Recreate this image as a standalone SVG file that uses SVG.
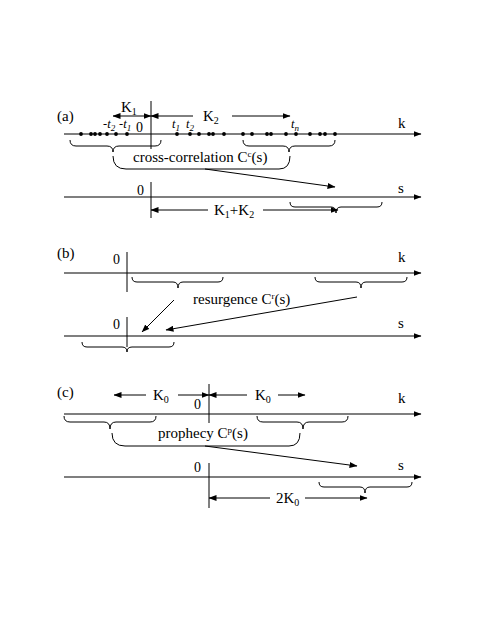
<svg xmlns="http://www.w3.org/2000/svg" width="491" height="635" viewBox="0 0 491 635">
<style>
text{font-family:"Liberation Serif","Times New Roman",serif;fill:#000}
.lab{font-size:15px}
.sm{font-size:14px}
.it{font-style:italic;font-size:12.5px}
.ax{stroke:#000;stroke-width:1.1;fill:none}
.ln{stroke:#000;stroke-width:1;fill:none}
.br{stroke:#000;stroke-width:1;fill:none}
.dot{fill:#000}
</style>
<defs>
<marker id="ah" markerUnits="userSpaceOnUse" markerWidth="8" markerHeight="6" refX="7.5" refY="3" orient="auto-start-reverse"><path d="M0,0 L8,3 L0,6 z" fill="#000"/></marker>
</defs>
<rect width="491" height="635" fill="#fff"/>

<g id="panel-a">
<text class="lab" x="57" y="121">(a)</text>
<line class="ax" x1="64" y1="134" x2="421" y2="134" marker-end="url(#ah)"/>
<line class="ln" x1="151" y1="101" x2="151" y2="149"/>
<text class="lab" x="398" y="128">k</text>
<line class="ln" x1="113" y1="116" x2="151" y2="116" marker-start="url(#ah)" marker-end="url(#ah)"/>
<text class="lab" x="121" y="112">K<tspan font-size="10" dy="3">1</tspan></text>
<line class="ln" x1="151" y1="116" x2="193" y2="116" marker-start="url(#ah)"/>
<text class="lab" x="203" y="121">K<tspan font-size="10" dy="3">2</tspan></text>
<line class="ln" x1="232" y1="116" x2="290" y2="116" marker-end="url(#ah)"/>
<text class="it" x="103" y="128">-t<tspan font-size="9" dy="3">2</tspan></text>
<text class="it" x="119" y="128">-t<tspan font-size="9" dy="3">1</tspan></text>
<text class="sm" x="136" y="132">0</text>
<text class="it" x="172" y="128">t<tspan font-size="9" dy="3">1</tspan></text>
<text class="it" x="186" y="128">t<tspan font-size="9" dy="3">2</tspan></text>
<text class="it" x="291" y="128">t<tspan font-size="9" dy="3">n</tspan></text>
<g class="dot">
<circle cx="81" cy="134" r="1.9"/><circle cx="91" cy="134" r="1.9"/><circle cx="95" cy="134" r="1.9"/><circle cx="100" cy="134" r="1.9"/><circle cx="107" cy="134" r="1.9"/><circle cx="116" cy="134" r="1.9"/><circle cx="127" cy="134" r="1.9"/>
<circle cx="177" cy="134" r="1.9"/><circle cx="190" cy="134" r="1.9"/><circle cx="199" cy="134" r="1.9"/><circle cx="209" cy="134" r="1.9"/><circle cx="213" cy="134" r="1.9"/><circle cx="224" cy="134" r="1.9"/><circle cx="243" cy="134" r="1.9"/><circle cx="252" cy="134" r="1.9"/><circle cx="267" cy="134" r="1.9"/><circle cx="271" cy="134" r="1.9"/><circle cx="286" cy="134" r="1.9"/><circle cx="296" cy="134" r="1.9"/><circle cx="310" cy="134" r="1.9"/><circle cx="320" cy="134" r="1.9"/><circle cx="325" cy="134" r="1.9"/><circle cx="335" cy="134" r="1.9"/>
</g>
<path class="br" d="M70,140 q0,6 6,6 H107 q6,0 6,6 q0,-6 6,-6 H155 q6,0 6,-6"/>
<path class="br" d="M243,140 q0,6 6,6 H283 q6,0 6,6 q0,-6 6,-6 H329 q6,0 6,-6"/>
<path class="br" d="M113,156 q0,13 13,13 H279 q11,0 11,-13"/>
<text class="lab" x="133" y="162">cross-correlation C<tspan font-size="9" dy="-5">c</tspan><tspan dy="5">(s)</tspan></text>

<line class="ax" x1="64" y1="197" x2="421" y2="197" marker-end="url(#ah)"/>
<line class="ln" x1="151" y1="182" x2="151" y2="218"/>
<text class="sm" x="137" y="195">0</text>
<text class="lab" x="398" y="193">s</text>
<path class="br" d="M290,202 q0,5 5,5 H331 q5,0 5,6 q0,-6 5,-6 H377 q5,0 5,-5"/>
<line class="ln" x1="151" y1="210" x2="208" y2="210" marker-start="url(#ah)"/>
<text class="lab" x="214" y="215">K<tspan font-size="10" dy="3">1</tspan><tspan dy="-3">+K</tspan><tspan font-size="10" dy="3">2</tspan></text>
<line class="ln" x1="263" y1="210" x2="338" y2="210" marker-end="url(#ah)"/>
</g>

<g id="panel-b">
<text class="lab" x="57" y="258">(b)</text>
<line class="ax" x1="64" y1="273" x2="421" y2="273" marker-end="url(#ah)"/>
<line class="ln" x1="127" y1="252" x2="127" y2="292"/>
<text class="sm" x="113" y="264">0</text>
<text class="lab" x="398" y="262">k</text>
<path class="br" d="M132,277 q0,5 5,5 H173 q5,0 5,6 q0,-6 5,-6 H218 q5,0 5,-5"/>
<path class="br" d="M315,277 q0,5 5,5 H356 q5,0 5,6 q0,-6 5,-6 H402 q5,0 5,-5"/>
<text class="lab" x="193" y="304">resurgence C<tspan font-size="9" dy="-5">r</tspan><tspan dy="5">(s)</tspan></text>
<line class="ax" x1="64" y1="336" x2="421" y2="336" marker-end="url(#ah)"/>
<line class="ln" x1="127" y1="317" x2="127" y2="347"/>
<text class="sm" x="113" y="329">0</text>
<text class="lab" x="398" y="328">s</text>
<path class="br" d="M82,342 q0,5 5,5 H122 q5,0 5,5 q0,-5 5,-5 H169 q5,0 5,-5"/>
</g>

<g id="panel-c">
<text class="lab" x="57" y="397">(c)</text>
<line class="ax" x1="64" y1="414" x2="421" y2="414" marker-end="url(#ah)"/>
<line class="ln" x1="209" y1="384" x2="209" y2="423"/>
<text class="sm" x="194" y="409">0</text>
<text class="lab" x="398" y="403">k</text>
<line class="ln" x1="114" y1="395" x2="146" y2="395" marker-start="url(#ah)"/>
<text class="lab" x="153" y="400">K<tspan font-size="10" dy="3">0</tspan></text>
<line class="ln" x1="178" y1="395" x2="209" y2="395" marker-end="url(#ah)"/>
<line class="ln" x1="209" y1="395" x2="247" y2="395" marker-start="url(#ah)"/>
<text class="lab" x="255" y="400">K<tspan font-size="10" dy="3">0</tspan></text>
<line class="ln" x1="278" y1="395" x2="305" y2="395" marker-end="url(#ah)"/>
<path class="br" d="M64,416 q0,6 6,6 H104 q6,0 6,7 q0,-7 6,-7 H150 q6,0 6,-6"/>
<path class="br" d="M257,416 q0,6 6,6 H297 q6,0 6,7 q0,-7 6,-7 H342 q6,0 6,-6"/>
<path class="br" d="M112,433 q0,13 13,13 H289 q11,0 11,-13"/>
<text class="lab" x="158" y="438">prophecy C<tspan font-size="9" dy="-5">p</tspan><tspan dy="5">(s)</tspan></text>
<line class="ax" x1="64" y1="477" x2="421" y2="477" marker-end="url(#ah)"/>
<line class="ln" x1="209" y1="463" x2="209" y2="508"/>
<text class="sm" x="194" y="472">0</text>
<text class="lab" x="398" y="470">s</text>
<path class="br" d="M319,482 q0,5 5,5 H360 q5,0 5,6 q0,-6 5,-6 H407 q5,0 5,-5"/>
<line class="ln" x1="209" y1="498" x2="270" y2="498" marker-start="url(#ah)"/>
<text class="lab" x="276" y="503">2K<tspan font-size="10" dy="3">0</tspan></text>
<line class="ln" x1="305" y1="498" x2="367" y2="498" marker-end="url(#ah)"/>
</g>

<g id="connectors">
<line class="ln" x1="205" y1="169" x2="335" y2="187" marker-end="url(#ah)"/>
<line class="ln" x1="174" y1="300" x2="142" y2="332" marker-end="url(#ah)"/>
<line class="ln" x1="357" y1="297" x2="166" y2="330" marker-end="url(#ah)"/>
<line class="ln" x1="205" y1="446" x2="357" y2="466" marker-end="url(#ah)"/>
</g>
</svg>
